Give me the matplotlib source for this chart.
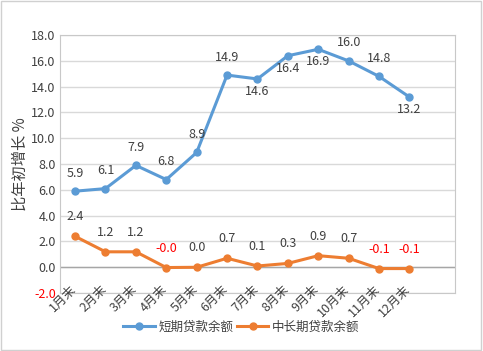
import matplotlib.pyplot as plt
from matplotlib.patches import Rectangle

plt.rcParams['font.family'] = ['Noto Sans CJK SC', 'DejaVu Sans']

months = ['1月末', '2月末', '3月末', '4月末', '5月末', '6月末',
          '7月末', '8月末', '9月末', '10月末', '11月末', '12月末']
short_term = [5.9, 6.1, 7.9, 6.8, 8.9, 14.9, 14.6, 16.4, 16.9, 16.0, 14.8, 13.2]
long_term = [2.4, 1.2, 1.2, -0.02, 0.0, 0.7, 0.1, 0.3, 0.9, 0.7, -0.1, -0.1]
short_below = [6, 7, 8, 11]  # labels drawn under the point

blue = '#5B9BD5'
orange = '#ED7D31'
txt = '#404040'

fig = plt.figure(figsize=(4.83, 3.51), dpi=100)
ax = fig.add_axes([0.124, 0.165, 0.818, 0.735])
fig.patches.append(Rectangle((0.002, 0.003), 0.994, 0.993, transform=fig.transFigure,
                             fill=False, edgecolor='#d0d0d0', lw=1))

x = list(range(len(months)))
ax.plot(x, short_term, color=blue, lw=2.2, marker='o', ms=5, label='短期贷款余额', zorder=3)
ax.plot(x, long_term, color=orange, lw=2.2, marker='o', ms=5, label='中长期贷款余额', zorder=3)

for i, v in enumerate(short_term):
    dy = -9 if i in short_below else 13
    ax.annotate(f'{v:.1f}', (i, v), xytext=(0, dy), textcoords='offset points',
                ha='center', va='center', fontsize=9, color=txt)
for i, v in enumerate(long_term):
    c = 'red' if v < 0 else txt
    ax.annotate(f'{v:.1f}', (i, v), xytext=(0, 14), textcoords='offset points',
                ha='center', va='center', fontsize=9, color=c)

ax.set_xlim(-0.5, 12.5)
ax.set_ylim(-2, 18)
ax.set_yticks([-2, 0, 2, 4, 6, 8, 10, 12, 14, 16, 18])
ax.set_yticklabels([f'{t:.1f}' for t in ax.get_yticks()], fontsize=9, color=txt)
ax.get_yticklabels()[0].set_color('red')
ax.tick_params(axis='y', length=0, pad=3)
ax.set_xticks([])
ax.grid(axis='y', color='#d9d9d9', lw=1)
ax.set_axisbelow(True)
ax.axhline(0, color='#a6a6a6', lw=1, zorder=2)
for s in ax.spines.values():
    s.set_color('#c8c8c8')

for i, m in enumerate(months):
    ax.annotate(m, (i, 0), xytext=(-4, -11), textcoords='offset points',
                ha='right', va='top', rotation=45, rotation_mode='anchor',
                fontsize=9, color=txt)

ax.set_ylabel('比年初增长 %', fontsize=11, color=txt, labelpad=2)

fig.legend(loc='center', bbox_to_anchor=(0.5, 0.068), ncol=2, frameon=False,
           fontsize=9, handlelength=2.5, columnspacing=0.3, handletextpad=0.3,
           labelcolor=txt)

fig.savefig('out.png', dpi=100)
